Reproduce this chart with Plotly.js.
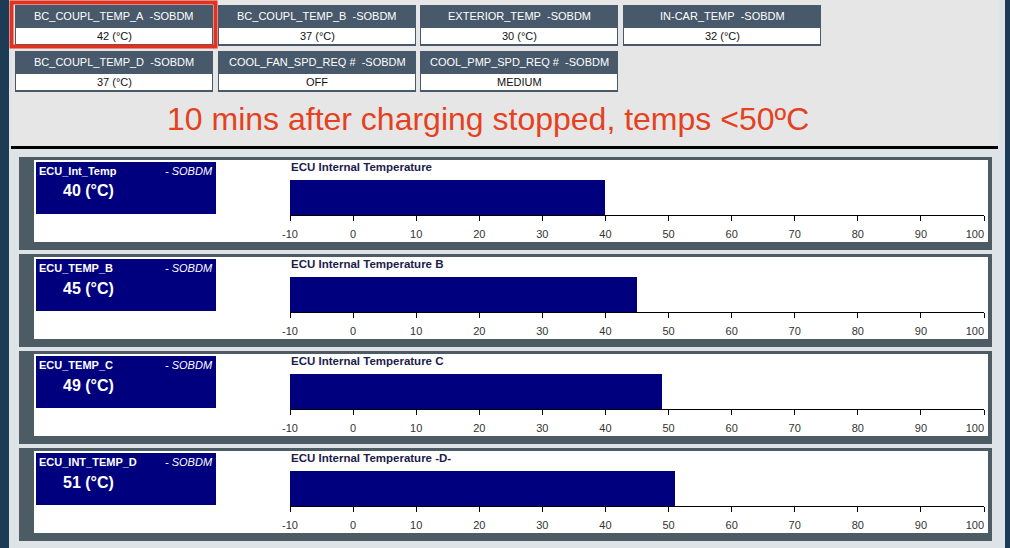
<!DOCTYPE html>
<html>
<head>
<meta charset="utf-8">
<script src="https://cdn.plot.ly/plotly-3.0.1.min.js"></script>
<style>html,body{margin:0;padding:0;background:#e6e6e6;}#chart{width:1010px;height:548px;}</style>
</head>
<body>
<div id="chart"></div>
<script>
// ---------- data ----------
const paramNames = ['BC_COUPL_TEMP_A', 'BC_COUPL_TEMP_B', 'EXTERIOR_TEMP', 'IN-CAR_TEMP',
                    'BC_COUPL_TEMP_D', 'COOL_FAN_SPD_REQ #', 'COOL_PMP_SPD_REQ #'];
const paramValues = ['42 (°C)', '37 (°C)', '30 (°C)', '32 (°C)', '37 (°C)', 'OFF', 'MEDIUM'];
const paramSource = '-SOBDM';
const headline = '10 mins after charging stopped, temps <50ºC';
const gaugeLabels = ['ECU_Int_Temp', 'ECU_TEMP_B', 'ECU_TEMP_C', 'ECU_INT_TEMP_D'];
const gaugeTitles = ['ECU Internal Temperature', 'ECU Internal Temperature B',
                     'ECU Internal Temperature C', 'ECU Internal Temperature -D-'];
const gaugeValues = [40, 45, 49, 51];
const gaugeUnit = '(°C)';
const gaugeSource = '- SOBDM';
const axisTicks = [-10, 0, 10, 20, 30, 40, 50, 60, 70, 80, 90, 100];
const axisTickText = ['-10', '0', '10', '20', '30', '40', '50', '60', '70', '80', '90', '100'];

// ---------- layout helpers ----------
const W = 1010, H = 548;
const X = p => p / W;
const Y = p => 1 - p / H;
const FONT = 'Liberation Sans, Arial, Helvetica, sans-serif';
const NAVY = '#00007f';
const HEADER = '#47596a';
const FRAME = '#4d5c64';

function rect(x0, y0, x1, y1, fill) {
  return {type: 'rect', xref: 'paper', yref: 'paper', layer: 'below',
          x0: X(x0), x1: X(x1), y0: Y(y1), y1: Y(y0),
          fillcolor: fill, line: {width: 0}};
}
function ann(text, x, y, xanchor, size, color, extra) {
  return Object.assign({text: text, xref: 'paper', yref: 'paper', x: X(x), y: Y(y),
          xanchor: xanchor, yanchor: 'middle', showarrow: false, borderpad: 0,
          font: {family: FONT, size: size, color: color}}, extra || {});
}

const shapes = [];
const annotations = [];

// backgrounds
shapes.push(rect(0, 0, W, H, '#dde3e6'));
shapes.push(rect(11, 0, 999, 146, '#e6e6e6'));
shapes.push(rect(0, 0, 9, H, '#1d3b55'));
shapes.push(rect(1005, 0, W, H, '#1d3b55'));
shapes.push(rect(11, 146, 998, 149, '#000000'));

// top parameter boxes
const boxX = [15, 218, 420, 623];
const boxW = 198;
const rowTop = [5, 51];
paramNames.forEach((name, i) => {
  const row = i < 4 ? 0 : 1;
  const col = i < 4 ? i : i - 4;
  const x0 = boxX[col], x1 = x0 + boxW;
  const t = rowTop[row];
  shapes.push(rect(x0, t, x1, t + 41, HEADER));
  shapes.push(rect(x0 + 1, t + 23, x1 - 1, t + 39, '#ffffff'));
  annotations.push(ann(name + '\u00a0\u00a0' + paramSource, (x0 + x1) / 2, t + 11, 'center', 11, '#ffffff'));
  annotations.push(ann(paramValues[i], (x0 + x1) / 2, t + 31, 'center', 11, '#111111'));
});
// red highlight around first box
shapes.push({type: 'rect', xref: 'paper', yref: 'paper', layer: 'above',
  x0: X(11.5), x1: X(215.5), y0: Y(46.5), y1: Y(2.5),
  line: {color: '#e2321f', width: 4}, fillcolor: 'rgba(0,0,0,0)'});

// headline
annotations.push(ann(headline, 488, 119, 'center', 32, '#e4411f'));

// gauge panels
const data = [];
const layout = {
  width: W, height: H, margin: {l: 0, r: 0, t: 0, b: 0, pad: 0},
  paper_bgcolor: '#e6e6e6', plot_bgcolor: 'rgba(0,0,0,0)',
  showlegend: false, bargap: 0, shapes: shapes, annotations: annotations,
  font: {family: FONT}
};
const AX_MIN = axisTicks[0], AX_MAX = axisTicks[axisTicks.length - 1];
// last label sits inside the panel edge, as in the source screen
const tickLabels = axisTickText.map((t, i) =>
  i === axisTickText.length - 1 ? t + '\u00a0'.repeat(6) : t);
gaugeValues.forEach((v, k) => {
  const top = 157 + 97 * k;
  shapes.push(rect(19, top, 992, top + 93, FRAME));
  shapes.push(rect(34, top + 3, 988, top + 85, '#ffffff'));
  shapes.push(rect(36, top + 5, 216, top + 57, NAVY));
  annotations.push(ann('<b>' + gaugeLabels[k] + '</b>', 38, top + 14, 'left', 11, '#ffffff'));
  annotations.push(ann('<i>' + gaugeSource + '</i>', 214, top + 14, 'right', 11, '#ffffff'));
  annotations.push(ann('<b>' + v + ' ' + gaugeUnit + '</b>', 62, top + 34, 'left', 16, '#ffffff'));
  annotations.push(ann('<b>' + gaugeTitles[k] + '</b>', 290, top + 10, 'left', 11.5, '#1c1c4c'));

  const n = k + 1;
  const sfx = n === 1 ? '' : String(n);
  data.push({type: 'bar', orientation: 'h', y: [0], x: [v - AX_MIN], base: AX_MIN, width: 1,
             xaxis: 'x' + sfx, yaxis: 'y' + sfx,
             marker: {color: NAVY, line: {width: 0}}, hoverinfo: 'skip'});
  layout['yaxis' + sfx] = {domain: [Y(top + 58), Y(top + 23)], range: [-0.5, 0.5], visible: false,
                fixedrange: true, anchor: 'x' + sfx};
  layout['xaxis' + sfx] = {domain: [X(290), X(984)], range: [AX_MIN, AX_MAX], anchor: 'y' + sfx,
                tickvals: axisTicks, ticktext: tickLabels,
                showline: true, linecolor: '#000000', linewidth: 1,
                ticks: 'outside', ticklen: 5, tickwidth: 1, tickcolor: '#000000',
                ticklabelstandoff: 4,
                tickfont: {family: FONT, size: 11, color: '#333333'},
                showgrid: false, zeroline: false, fixedrange: true};
});

Plotly.newPlot('chart', data, layout, {displayModeBar: false, staticPlot: true});
</script>
</body>
</html>
